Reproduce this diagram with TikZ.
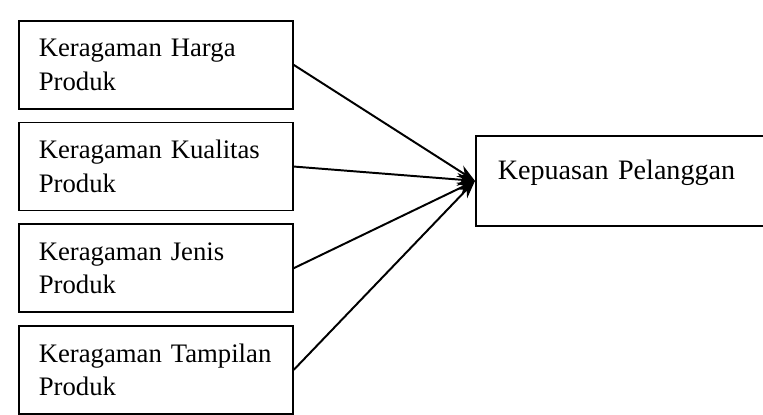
\documentclass[tikz,border=0pt]{standalone}
\usepackage{fontspec}
\setmainfont{Liberation Serif}
\usetikzlibrary{arrows.meta, positioning}

\begin{document}
\begin{tikzpicture}[
  node distance=0.3cm,
  factor/.style={rectangle, draw, line width=1.2pt, minimum height=2.2cm, text width=5.85cm, align=left, inner xsep=0.5cm, font=\fontsize{19}{24}\selectfont},
  result/.style={rectangle, draw, line width=1.2pt, text width=6.8cm, align=left, inner xsep=0.55cm, inner ysep=0.5cm, text height=0.6cm, text depth=0.65cm, font=\fontsize{20}{24}\selectfont},
  arrow/.style={-{Stealth[length=0.45cm, width=0.32cm]}, line width=1.4pt}
]
  \useasboundingbox (0,0) rectangle (19.075,-10.35);

  \node[factor, anchor=north west] (harga) at (0.45,-0.5) {Keragaman Harga\\Produk};
  \node[factor, below=of harga] (kualitas) {Keragaman Kualitas\\Produk};
  \node[factor, below=of kualitas] (jenis) {Keragaman Jenis\\Produk};
  \node[factor, below=of jenis] (tampilan) {Keragaman Tampilan\\Produk};
  \node[result, anchor=north west] (kepuasan) at (11.875,-3.375) {Kepuasan Pelanggan};

  \draw[arrow] (harga.east) -- (kepuasan.west);
  \draw[arrow] (kualitas.east) -- (kepuasan.west);
  \draw[arrow] (jenis.east) -- (kepuasan.west);
  \draw[arrow] (tampilan.east) -- (kepuasan.west);
\end{tikzpicture}
\end{document}
